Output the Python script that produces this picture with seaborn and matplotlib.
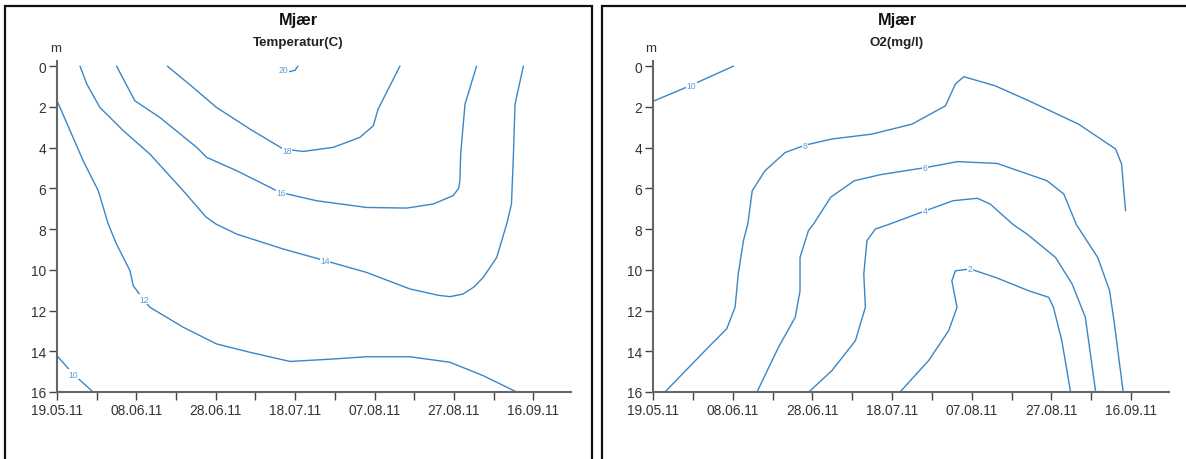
import matplotlib
matplotlib.use("Agg")
import matplotlib.pyplot as plt
from matplotlib.patches import Rectangle
import numpy as np
import pandas as pd
import seaborn as sns

# ---- axis definitions -------------------------------------------------------
start_date = "19.05.11"
date_labels = ["19.05.11", "08.06.11", "28.06.11", "18.07.11",
               "07.08.11", "27.08.11", "16.09.11"]
depth_ticks = [0, 2, 4, 6, 8, 10, 12, 14, 16]

# ---- temperature isotherms (days after start, depth in m) -------------------
t20_day = [55.9, 57.4, 58.7, 60.0, 60.7]
t20_depth = [0.0, 0.2, 0.27, 0.2, 0.0]

t18_day = [27.8, 34.3, 40.2, 48.6, 57.0, 62.0, 69.6, 76.3, 79.7, 80.9, 86.4]
t18_depth = [0.0, 1.05, 2.03, 3.09, 4.07, 4.19, 3.99, 3.5, 2.93, 2.11, 0.0]

t16_day = [15.0, 19.6, 25.9, 35.2, 37.7, 45.3, 56.2, 65.4, 78.0, 88.1,
           94.8, 99.8, 101.2, 101.5, 101.7, 102.8, 105.7]
t16_depth = [0.0, 1.70, 2.52, 3.99, 4.48, 5.14, 6.2, 6.61, 6.94, 6.97,
             6.77, 6.36, 6.0, 5.63, 4.32, 1.87, 0.0]

t14_day = [5.8, 7.5, 10.8, 16.7, 23.4, 31.8, 37.5, 40.0, 45.3, 57.0, 67.5,
           78.0, 88.9, 96.0, 99.0, 102.3, 105.0, 107.4, 110.8, 113.3, 114.5,
           115.0, 115.4, 117.5]
t14_depth = [0.0, 0.88, 2.03, 3.17, 4.32, 6.12, 7.40, 7.75, 8.25, 8.98, 9.55,
             10.13, 10.94, 11.25, 11.32, 11.19, 10.85, 10.37, 9.39, 7.75,
             6.77, 4.32, 1.87, 0.0]

t12_day = [0.0, 3.3, 6.6, 10.4, 12.9, 15.0, 18.4, 19.2, 21.7, 23.4, 31.8,
           40.2, 48.6, 58.7, 69.6, 78.0, 88.9, 99.0, 107.4, 115.8]
t12_depth = [1.70, 3.17, 4.65, 6.12, 7.75, 8.74, 10.05, 10.78, 11.44, 11.84,
             12.82, 13.64, 14.05, 14.5, 14.38, 14.27, 14.27, 14.54, 15.2,
             16.0]

t10_day = [0.0, 4.1, 9.1]
t10_depth = [14.22, 15.12, 16.0]

temp_levels = [20, 18, 16, 14, 12, 10]
temp_label_day = [57.0, 57.9, 56.4, 67.5, 21.9, 4.1]
temp_label_depth = [0.15, 4.12, 6.2, 9.55, 11.44, 15.12]

# ---- oxygen isolines (days after start, depth in m) -------------------------
o10_day = [0.0, 9.7, 20.2]
o10_depth = [1.73, 0.93, 0.0]

o8_day = [3.0, 13.9, 18.5, 20.6, 21.4, 22.7, 23.8, 24.9, 28.1, 33.2, 38.2,
          44.9, 54.9, 65.0, 73.4, 75.9, 78.0, 85.9, 94.3, 106.8, 116.1,
          117.6, 118.6]
o8_depth = [16.0, 13.8, 12.9, 11.84, 10.2, 8.57, 7.75, 6.12, 5.14, 4.24,
            3.88, 3.58, 3.34, 2.85, 1.95, 0.88, 0.52, 0.97, 1.70, 2.85,
            4.07, 4.81, 7.1]

o6_day = [26.1, 31.5, 35.7, 36.9, 36.9, 39.0, 40.3, 44.6, 50.5, 57.1, 68.8,
          76.4, 86.4, 98.9, 103.1, 106.3, 111.6, 114.6, 115.8, 118.0]
o6_depth = [16.0, 13.8, 12.33, 11.03, 9.39, 8.08, 7.75, 6.44, 5.63, 5.33,
            4.97, 4.69, 4.78, 5.63, 6.28, 7.8, 9.39, 11.03, 12.66, 16.0]

o4_day = [39.1, 44.9, 50.8, 53.3, 52.9, 53.7, 55.8, 59.5, 68.8, 75.3, 81.4,
          84.6, 90.5, 93.9, 101.0, 105.2, 108.5, 111.1]
o4_depth = [16.0, 14.95, 13.48, 11.84, 10.21, 8.57, 8.0, 7.75, 7.07, 6.61,
            6.49, 6.77, 7.8, 8.25, 9.39, 10.7, 12.33, 16.0]

o2_day = [62.0, 69.2, 74.2, 76.3, 75.0, 75.9, 79.6, 85.9, 94.3, 99.3, 100.5,
          102.6, 104.8]
o2_depth = [16.0, 14.45, 12.99, 11.84, 10.54, 10.05, 9.96, 10.37, 11.03,
            11.35, 11.84, 13.48, 16.0]

o2_levels = [10, 8, 6, 4, 2]
o2_label_day = [9.7, 38.2, 68.3, 68.3, 79.6]
o2_label_depth = [0.93, 3.88, 4.97, 7.07, 9.96]

# ---- styling ---------------------------------------------------------------
sns.set_theme(style="white")
plt.rcParams["font.family"] = ["Liberation Sans", "DejaVu Sans"]

LINE = "#3b86c6"
LABEL = "#5b9bd3"
AXIS = "#666666"
TEXT = "#333333"

W, H = 1186, 460
fig = plt.figure(figsize=(W / 100, H / 100), dpi=100)
fig.patch.set_facecolor("white")

start = pd.to_datetime(start_date, format="%d.%m.%y")
label_days = [(pd.to_datetime(d, format="%d.%m.%y") - start).days
              for d in date_labels]
minor_days = np.arange(0, label_days[-1] + 1, 10)


def panel_axes(x_left, x_right):
    top, bottom = 62, 393
    return fig.add_axes([x_left / W, 1 - bottom / H,
                         (x_right - x_left) / W, (bottom - top) / H])


def draw_line(ax, days, depths):
    df = pd.DataFrame({"day": days, "depth": depths})
    sns.lineplot(data=df, x="day", y="depth", sort=False, estimator=None,
                 color=LINE, linewidth=1.0, ax=ax)


def style_axes(ax):
    ax.set_xlim(0, 129.5)
    ax.set_ylim(16, -0.25)
    ax.set_xlabel("")
    ax.set_ylabel("")
    for s in ("top", "right"):
        ax.spines[s].set_visible(False)
    for s in ("left", "bottom"):
        ax.spines[s].set_color(AXIS)
        ax.spines[s].set_linewidth(1.5)
    ax.set_xticks(minor_days)
    ax.set_xticklabels([date_labels[label_days.index(d)] if d in label_days
                        else "" for d in minor_days])
    ax.set_yticks(depth_ticks)
    ax.set_yticklabels([str(v) for v in depth_ticks])
    ax.tick_params(axis="both", direction="out", length=6, width=1.0,
                   color="#444444", labelsize=9.9, labelcolor=TEXT, pad=2,
                   left=True, bottom=True)
    ax.set_facecolor("white")
    ax.grid(False)


def label_lines(ax, levels, days, depths):
    for lv, d, z in zip(levels, days, depths):
        ax.text(d, z, str(lv), fontsize=6.2, color=LABEL, ha="center",
                va="center", zorder=5,
                bbox=dict(boxstyle="square,pad=0.05", fc="white", ec="none"))


# left panel: temperature
ax1 = panel_axes(57, 571)
for dd, zz in [(t20_day, t20_depth), (t18_day, t18_depth),
               (t16_day, t16_depth), (t14_day, t14_depth),
               (t12_day, t12_depth), (t10_day, t10_depth)]:
    draw_line(ax1, dd, zz)
style_axes(ax1)
label_lines(ax1, temp_levels, temp_label_day, temp_label_depth)

# right panel: oxygen
ax2 = panel_axes(653, 1169)
for dd, zz in [(o10_day, o10_depth), (o8_day, o8_depth), (o6_day, o6_depth),
               (o4_day, o4_depth), (o2_day, o2_depth)]:
    draw_line(ax2, dd, zz)
style_axes(ax2)
label_lines(ax2, o2_levels, o2_label_day, o2_label_depth)

# panel frames
fig.add_artist(Rectangle((5 / W, -0.2), 587 / W, 1.2 - 7 / H,
                         transform=fig.transFigure, fill=False,
                         edgecolor="#111111", linewidth=1.6, clip_on=False))
fig.add_artist(Rectangle((602 / W, -0.2), 700 / W, 1.2 - 7 / H,
                         transform=fig.transFigure, fill=False,
                         edgecolor="#111111", linewidth=1.6, clip_on=False))

# titles and unit labels
for cx, sub, ax_x in [(298.5, "Temperatur(C)", 55.5), (897, "O2(mg/l)", 651)]:
    fig.text(cx / W, 1 - 21 / H, "Mjær", ha="center", va="center",
             fontsize=11.8, fontweight="bold", color="#111111")
    fig.text(cx / W, 1 - 43 / H, sub, ha="center", va="center",
             fontsize=9.6, fontweight="bold", color="#222222")
    fig.text(ax_x / W, 1 - 49 / H, "m", ha="center", va="center",
             fontsize=9.6, color=TEXT)

fig.savefig("out.png", dpi=100, facecolor="white")
